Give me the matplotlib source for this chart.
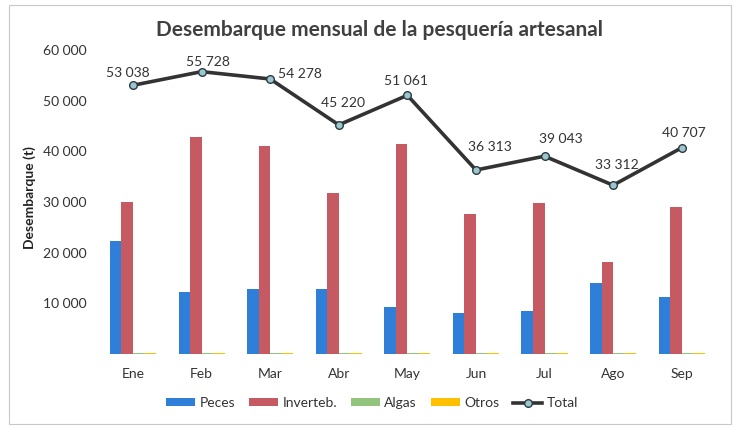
import numpy as np
import matplotlib.pyplot as plt
from matplotlib.patches import Rectangle
from matplotlib.ticker import FuncFormatter

# ---------------------------------------------------------------------------
# Data (t)
# ---------------------------------------------------------------------------
meses    = ["Ene", "Feb", "Mar", "Abr", "May", "Jun", "Jul", "Ago", "Sep"]
peces    = [22400, 12300, 12900, 12800, 9300, 8100, 8500, 14100, 11200]
inverteb = [30000, 42900, 41100, 31800, 41400, 27700, 29800, 18100, 29000]
algas    = [150, 150, 150, 150, 150, 150, 150, 150, 150]
otros    = [100, 100, 100, 100, 100, 100, 100, 100, 100]
total    = [53038, 55728, 54278, 45220, 51061, 36313, 39043, 33312, 40707]

# label offsets (px) for the total annotations
lbl_off = [(-5, 12), (6, 10), (30, 5), (4, 22), (-1, 14),
           (14, 23), (16, 17), (4, 20), (2, 15)]

C_PECES = "#2f7ed8"
C_INV   = "#c65a63"
C_ALG   = "#93c47d"
C_OTR   = "#ffc000"
C_TXT   = "#333333"

plt.rcParams["font.family"] = ["Lato", "DejaVu Sans"]


def miles(v, _pos=None):
    return f"{int(round(v)):,}".replace(",", " ")


fig = plt.figure(figsize=(7.33, 4.28), dpi=100)
ax = fig.add_axes([98.7 / 733, 74 / 428, (716 - 98.7) / 733, (354 - 50) / 428])

x = np.arange(len(meses))
w = 0.168
b1 = ax.bar(x - 1.5 * w, peces, w, color=C_PECES, label="Peces")
b2 = ax.bar(x - 0.5 * w, inverteb, w, color=C_INV, label="Inverteb.")
b3 = ax.bar(x + 0.5 * w, algas, w, color=C_ALG, label="Algas")
b4 = ax.bar(x + 1.5 * w, otros, w, color=C_OTR, label="Otros")
ln, = ax.plot(x, total, color="#333333", lw=2.6, marker="o", ms=5.5,
              mfc="#9cc6cf", mec="#2b3a40", mew=1.0, label="Total", zorder=5)

for xi, v, (dx, dy) in zip(x, total, lbl_off):
    ax.annotate(miles(v), (xi, v), xytext=(dx * 0.72, dy * 0.72),
                textcoords="offset points", ha="center", va="center",
                fontsize=10, color=C_TXT)

ax.set_xlim(-0.5, len(meses) - 0.5)
ax.set_ylim(0, 60000)
ax.set_yticks([10000, 20000, 30000, 40000, 50000, 60000])
ax.yaxis.set_major_formatter(FuncFormatter(miles))
ax.set_xticks(x)
ax.set_xticklabels(meses)
ax.tick_params(axis="both", length=0, labelsize=10, colors=C_TXT)
ax.tick_params(axis="x", pad=10)
ax.tick_params(axis="y", pad=9)
for s in ax.spines.values():
    s.set_visible(False)

fig.text(379 / 733, 1 - 30 / 428, "Desembarque mensual de la pesquería artesanal",
         ha="center", va="center", fontsize=15, fontweight="bold", color="#404040")
fig.text(30 / 733, 1 - 198 / 428, "Desembarque (t)", rotation=90,
         ha="center", va="center", fontsize=10, fontweight="bold", color="#222222")

fig.legend(handles=[b1, b2, b3, b4, ln], loc="center", ncol=5,
           bbox_to_anchor=(372 / 733, 1 - 403 / 428), frameon=False,
           fontsize=10, handlelength=2.1, handleheight=0.45,
           columnspacing=1.0, handletextpad=0.3, labelcolor=C_TXT)

# chart frame
fig.patches.append(Rectangle((9 / 733, 4 / 428), 722 / 733, 419 / 428,
                             transform=fig.transFigure, fill=False,
                             edgecolor="#c8c8c8", lw=0.8))

fig.savefig("out.png", dpi=100, facecolor="white")
